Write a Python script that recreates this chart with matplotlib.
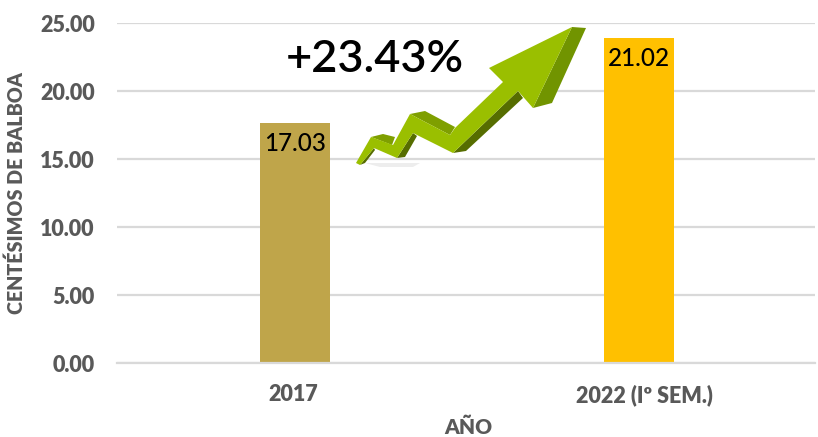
#!/usr/bin/env python3
import matplotlib
matplotlib.use('Agg')
import matplotlib.pyplot as plt
from matplotlib.patches import Polygon
from matplotlib.transforms import ScaledTranslation

W, H = 818, 437

years = ['2017', '2022 (Iº SEM.)']
bar_heights = [17.65, 23.9]     # as drawn in the picture
bar_labels = ['17.03', '21.02']
bar_colors = ['#BFA54A', '#FFC000']
yticks = [0, 5, 10, 15, 20, 25]

# decorative arrow, outlines in pixels of the picture
arrow_floor = [(365, 163), (420, 163), (413, 167), (380, 167)]
arrow_body = [(356, 163), (371, 137), (393, 145), (410, 114), (450, 135), (455, 128),
              (503, 82), (489, 68), (572, 27), (533, 108), (518, 91), (453, 153),
              (413, 133), (397, 158), (374, 148), (360, 165)]
arrow_tops = [[(371, 137), (383, 134), (395, 137), (392, 145)],
              [(410, 114), (425, 111), (455, 127), (450, 135)]]
arrow_head_side = [(572, 27), (586, 28), (552, 103), (533, 108)]
arrow_under = [[(453, 153), (466, 151), (523, 98), (518, 91)],
               [(397, 158), (405, 157), (417, 136), (413, 133)],
               [(360, 165), (365, 163), (375, 150), (374, 148)]]


def main():
    plt.rcParams['font.family'] = ['Lato', 'DejaVu Sans']
    fig = plt.figure(figsize=(W/100, H/100), dpi=100)
    ax = fig.add_axes([117/W, 1 - 363/H, 698/W, 340/H])
    ax.set_axisbelow(True)
    ax.yaxis.grid(True, color='#D9D9D9', linewidth=1.6)
    # x range keeps the two bars at 295 and 639 px
    ax.bar(range(2), bar_heights, width=0.2035, color=bar_colors)
    for i, lab in enumerate(bar_labels):
        ax.text(i, bar_heights[i] - 0.7, lab, ha='center', va='top',
                fontsize=17.5, fontweight='medium', color='black')
    ax.set_xlim(-178/344, 1 + 176/344)
    ax.set_ylim(0, 25)
    ax.set_yticks(yticks, ['%.2f' % v for v in yticks])
    ax.set_xticks(range(2), years)
    ax.tick_params(length=0, labelsize=15.5, labelcolor='#595959')
    ax.tick_params(axis='y', pad=16)
    ax.tick_params(axis='x', pad=15)
    for lab in ax.get_xticklabels() + ax.get_yticklabels():
        lab.set_fontweight('heavy')
    # the category labels sit a little off the bar centres in the original
    for lab, dx in zip(ax.get_xticklabels(), [-2, 5]):
        lab.set_transform(lab.get_transform() + ScaledTranslation(dx/100, 0, fig.dpi_scale_trans))
    for s in ['top', 'right', 'left']:
        ax.spines[s].set_visible(False)
    ax.spines['bottom'].set_color('#D9D9D9')
    ax.spines['bottom'].set_linewidth(1.6)
    fig.text(468/W, 1 - 427/H, 'AÑO', ha='center', va='center', fontsize=15,
             fontweight='heavy', color='#595959')
    fig.text(16/W, 1 - 193/H, 'CENTÉSIMOS DE BALBOA', ha='center', va='center',
             rotation=90, fontsize=14.2, fontweight='heavy', color='#595959')

    over = fig.add_axes([0, 0, 1, 1])
    over.set_xlim(0, W)
    over.set_ylim(H, 0)
    over.axis('off')
    over.add_patch(Polygon(arrow_floor, color='#EDEDED', lw=0))
    for p in arrow_under:
        over.add_patch(Polygon(p, color='#566D00', lw=0))
    over.add_patch(Polygon(arrow_head_side, color='#719400', lw=0))
    for p in arrow_tops:
        over.add_patch(Polygon(p, color='#7F9F00', lw=0))
    over.add_patch(Polygon(arrow_body, color='#9ABF00', lw=0))
    over.text(375, 60, '+23.43%', ha='center', va='center', fontsize=32.5,
              fontweight='semibold', color='black')

    fig.savefig('out.png', dpi=100)
    plt.close('all')


if __name__ == '__main__':
    main()
